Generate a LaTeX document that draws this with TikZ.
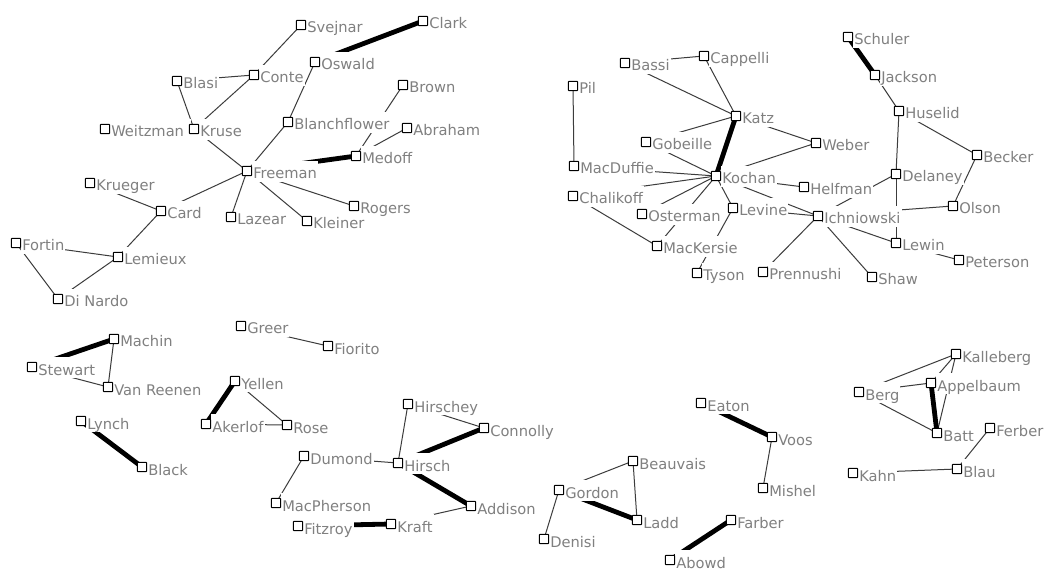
\documentclass[tikz,border=0pt]{standalone}
\usepackage{fontspec}
\setmainfont{DejaVu Sans}
\definecolor{namegray}{RGB}{128,128,128}
\definecolor{tiegray}{RGB}{60,60,60}
\pgfdeclarelayer{paper}
\pgfdeclarelayer{edges}
\pgfsetlayers{paper,edges,main}

% one author: white label box first, square marker on top
\newcommand\person[4]{%
  \node[lab] (#1-t) at (#2,#3) {#4};
  \node[box] (#1) at (#2,#3) {};}
% co-authorship links, centre to centre
\newcommand\lnk[2]{\draw[tie] (#1.center) -- (#2.center);}
\newcommand\hvy[2]{\draw[strong] (#1.center) -- (#2.center);}

\begin{document}
\begin{tikzpicture}[x=0.75pt,y=-0.75pt,
  box/.style={draw=black, fill=white, line width=0.75pt, minimum size=7pt,
    inner sep=0pt, rounded corners=0.5pt},
  lab/.style={anchor=west, fill=white, inner xsep=0.75pt, inner ysep=0pt,
    text height=13.5pt, text depth=2.25pt, text=namegray,
    font=\fontsize{11pt}{13pt}\selectfont, xshift=3.75pt, yshift=-0.375pt},
  tie/.style={draw=tiegray, line width=0.75pt},
  strong/.style={draw=black, line width=3.6pt}]

\begin{pgfonlayer}{paper}
  \fill[white] (0,0) rectangle (1046,570);
\end{pgfonlayer}
\useasboundingbox (0,0) rectangle (1046,570);

% ---- labour economists, upper left
\person{Svejnar}{301}{25}{Svejnar}
\person{Clark}{423}{21}{Clark}
\person{Oswald}{315}{62}{Oswald}
\person{Conte}{254}{75}{Conte}
\person{Blasi}{177}{81}{Blasi}
\person{Weitzman}{105}{129}{Weitzman\rule{4.5pt}{0pt}}
\person{Kruse}{194}{129}{Kruse}
\person{Blanchflower}{288}{122}{Blanchflower}
\person{Brown}{403}{85}{Brown}
\person{Abraham}{407}{128}{Abraham}
\person{Medoff}{356}{156}{Medoff}
\person{Freeman}{247}{171}{Freeman}
\person{Krueger}{90}{183}{Krueger}
\person{Card}{161}{211}{Card}
\person{Lazear}{231}{217}{Lazear}
\person{Kleiner}{307}{221}{Kleiner}
\person{Rogers}{354}{206}{Rogers}
\person{Fortin}{16}{243}{Fortin}
\person{Lemieux}{118}{257}{Lemieux}
\person{DiNardo}{58}{299}{Di Nardo}

% ---- industrial relations, upper right
\person{Cappelli}{704}{56}{Cappelli}
\person{Bassi}{625}{63}{Bassi}
\person{Pil}{573}{86}{Pil}
\person{Katz}{736}{116}{Katz}
\person{Gobeille}{646}{142}{Gobeille}
\person{Weber}{816}{143}{Weber}
\person{MacDuffie}{574}{166}{MacDuffie}
\person{Kochan}{716}{176}{Kochan}
\person{Helfman}{804}{187}{Helfman}
\person{Chalikoff}{573}{196}{Chalikoff}
\person{Osterman}{642}{214}{Osterman}
\person{Levine}{733}{208}{Levine}
\person{Ichniowski}{818}{216}{Ichniowski}
\person{MacKersie}{657}{246}{MacKersie}
\person{Tyson}{697}{273}{Tyson}
\person{Prennushi}{763}{272}{Prennushi}
\person{Schuler}{848}{37}{Schuler}
\person{Jackson}{875}{75}{Jackson}
\person{Huselid}{899}{111}{Huselid}
\person{Becker}{977}{155}{Becker}
\person{Delaney}{896}{174}{Delaney}
\person{Olson}{953}{206}{Olson}
\person{Lewin}{896}{243}{Lewin}
\person{Peterson}{959}{260}{Peterson}
\person{Shaw}{872}{277}{Shaw}

% ---- small groups, bottom
\person{Machin}{114}{339}{Machin}
\person{Stewart}{32}{367}{Stewart}
\person{VanReenen}{108}{387}{Van Reenen}
\person{Greer}{241}{326}{Greer}
\person{Fiorito}{328}{346}{Fiorito}
\person{Yellen}{235}{381}{Yellen}
\person{Akerlof}{206}{424}{Akerlof}
\person{Rose}{287}{425}{Rose}
\person{Lynch}{81}{421}{Lynch}
\person{Black}{142}{467}{Black}
\person{Hirschey}{408}{404}{Hirschey}
\person{Connolly}{484}{428}{Connolly}
\person{Dumond}{304}{456}{Dumond}
\person{Hirsch}{398}{463}{Hirsch}
\person{MacPherson}{276}{503}{MacPherson}
\person{Addison}{471}{506}{Addison}
\person{Fitzroy}{298}{526}{Fitzroy}
\person{Kraft}{391}{524}{Kraft}
\person{Eaton}{701}{403}{Eaton}
\person{Voos}{772}{437}{Voos}
\person{Beauvais}{633}{461}{Beauvais}
\person{Gordon}{559}{490}{Gordon}
\person{Mishel}{763}{488}{Mishel}
\person{Ladd}{637}{520}{Ladd}
\person{Farber}{731}{520}{Farber}
\person{Denisi}{544}{539}{Denisi}
\person{Abowd}{670}{560}{Abowd}
\person{Kalleberg}{956}{354}{Kalleberg}
\person{Appelbaum}{931}{383}{Appelbaum}
\person{Berg}{859}{392}{Berg}
\person{Batt}{937}{433}{Batt}
\person{Ferber}{990}{428}{Ferber}
\person{Blau}{957}{469}{Blau}
\person{Kahn}{853}{473}{Kahn}

\begin{pgfonlayer}{edges}
  % upper left
  \lnk{Svejnar}{Conte}
  \hvy{Clark}{Oswald}
  \lnk{Blasi}{Conte}
  \lnk{Conte}{Kruse}
  \lnk{Blasi}{Kruse}
  \hvy{Weitzman}{Kruse}
  \lnk{Kruse}{Freeman}
  \lnk{Oswald}{Blanchflower}
  \lnk{Blanchflower}{Freeman}
  \lnk{Brown}{Medoff}
  \lnk{Abraham}{Medoff}
  \hvy{Medoff}{Freeman}
  \lnk{Freeman}{Card}
  \lnk{Freeman}{Lazear}
  \lnk{Freeman}{Kleiner}
  \lnk{Freeman}{Rogers}
  \lnk{Krueger}{Card}
  \lnk{Card}{Lemieux}
  \lnk{Fortin}{Lemieux}
  \lnk{Fortin}{DiNardo}
  \lnk{Lemieux}{DiNardo}
  % upper right
  \lnk{Bassi}{Cappelli}
  \lnk{Cappelli}{Katz}
  \lnk{Bassi}{Katz}
  \lnk{Pil}{MacDuffie}
  \hvy{Katz}{Kochan}
  \lnk{Katz}{Weber}
  \lnk{Katz}{Gobeille}
  \lnk{Gobeille}{Kochan}
  \lnk{Weber}{Kochan}
  \lnk{MacDuffie}{Kochan}
  \lnk{Chalikoff}{Kochan}
  \lnk{Osterman}{Kochan}
  \lnk{MacKersie}{Kochan}
  \lnk{Chalikoff}{MacKersie}
  \lnk{Kochan}{Levine}
  \lnk{Levine}{Tyson}
  \lnk{Kochan}{Ichniowski}
  \lnk{Levine}{Ichniowski}
  \lnk{Kochan}{Helfman}
  \lnk{Ichniowski}{Prennushi}
  \lnk{Ichniowski}{Shaw}
  \lnk{Ichniowski}{Delaney}
  \lnk{Ichniowski}{Olson}
  \lnk{Ichniowski}{Lewin}
  \hvy{Schuler}{Jackson}
  \lnk{Jackson}{Huselid}
  \lnk{Huselid}{Delaney}
  \lnk{Delaney}{Lewin}
  \lnk{Huselid}{Becker}
  \lnk{Becker}{Olson}
  \lnk{Lewin}{Peterson}
  % bottom
  \hvy{Machin}{Stewart}
  \lnk{Machin}{VanReenen}
  \lnk{Stewart}{VanReenen}
  \lnk{Greer}{Fiorito}
  \hvy{Yellen}{Akerlof}
  \lnk{Yellen}{Rose}
  \lnk{Akerlof}{Rose}
  \hvy{Lynch}{Black}
  \lnk{Hirschey}{Hirsch}
  \lnk{Hirschey}{Connolly}
  \hvy{Connolly}{Hirsch}
  \lnk{Dumond}{Hirsch}
  \lnk{Dumond}{MacPherson}
  \hvy{Hirsch}{Addison}
  \lnk{Addison}{Kraft}
  \hvy{Fitzroy}{Kraft}
  \hvy{Eaton}{Voos}
  \lnk{Voos}{Mishel}
  \lnk{Beauvais}{Gordon}
  \lnk{Beauvais}{Ladd}
  \hvy{Gordon}{Ladd}
  \lnk{Gordon}{Denisi}
  \hvy{Farber}{Abowd}
  \lnk{Berg}{Kalleberg}
  \lnk{Berg}{Appelbaum}
  \lnk{Berg}{Batt}
  \lnk{Appelbaum}{Kalleberg}
  \lnk{Batt}{Kalleberg}
  \hvy{Appelbaum}{Batt}
  \lnk{Kahn}{Blau}
  \lnk{Blau}{Ferber}
\end{pgfonlayer}
\end{tikzpicture}
\end{document}
